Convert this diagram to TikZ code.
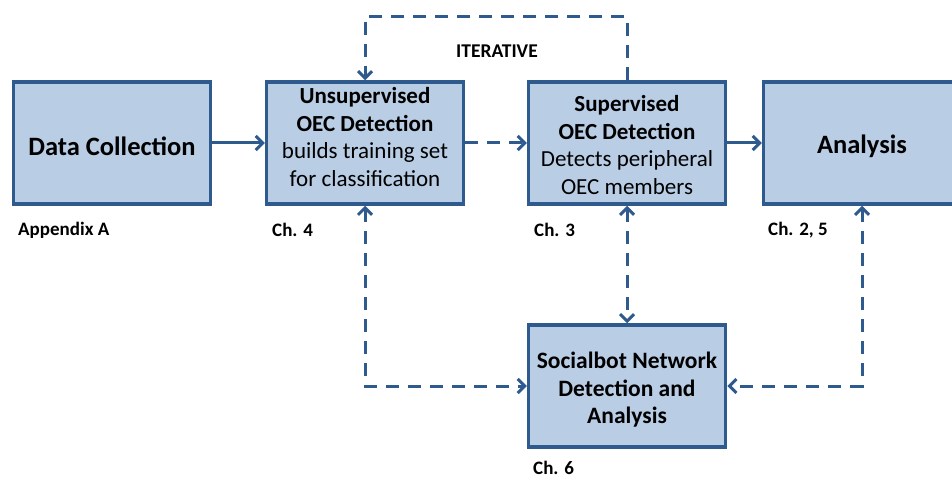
\documentclass[tikz,border=0pt]{standalone}
\usepackage{fontspec}
\setmainfont{Carlito}
\usetikzlibrary{arrows.meta}
\definecolor{boxfill}{HTML}{B9CDE5}
\definecolor{boxline}{HTML}{2F5A8E}
\begin{document}
\begin{tikzpicture}[x=1pt,y=-1pt,
  stagebox/.style={draw=boxline, fill=boxfill, line width=3.5pt, minimum width=197pt, minimum height=122pt, inner sep=0pt},
  boxtext/.style={align=center, text=black, inner sep=0pt},
  flow/.style={draw=boxline, line width=3pt, -{Straight Barb[length=7pt,width=14pt,line width=3pt]}},
  dashflow/.style={flow, dash pattern=on 13pt off 9pt},
  both/.style={dashflow, {Straight Barb[length=7pt,width=14pt,line width=3pt]}-{Straight Barb[length=7pt,width=14pt,line width=3pt]}},
  lbl/.style={font=\fontsize{19}{22}\selectfont\bfseries, anchor=west, text=black, inner sep=0pt}
]
\useasboundingbox (0,0) rectangle (952,481);
\clip (0,0) rectangle (952,481);
\node[stagebox] (dc) at (112,143) {};
\node[stagebox] (uns) at (365,143) {};
\node[stagebox] (sup) at (627,143) {};
\node[stagebox] (ana) at (862,143) {};
\node[stagebox] (sbn) at (627,386) {};

\node[boxtext, font=\fontsize{26.5}{30}\selectfont\bfseries] (dct) at (112,146) {Data Collection};
\node[boxtext, font=\fontsize{26.5}{30}\selectfont\bfseries] (anat) at (862,146) {Analysis};
\node[boxtext, font=\fontsize{23}{27.7}\selectfont] (unst) at (365,137) {\textbf{Unsupervised}\\\textbf{OEC Detection}\\builds training set\\for classification};
\node[boxtext, font=\fontsize{23}{27.7}\selectfont] (supt) at (627,145) {\textbf{Supervised}\\\textbf{OEC Detection}\\Detects peripheral\\OEC members};
\node[boxtext, font=\fontsize{23.5}{27.5}\selectfont\bfseries] (sbnt) at (627,390) {Socialbot Network\\Detection and\\Analysis};

\node[lbl] (la) at (18,230) {Appendix A};
\node[lbl] (l4) at (272,230) {Ch. 4};
\node[lbl] (l3) at (534,230) {Ch. 3};
\node[lbl] (l25) at (768,230) {Ch. 2, 5};
\node[lbl] (l6) at (533,468) {Ch. 6};
\node[font=\fontsize{19.5}{22}\selectfont\bfseries, inner sep=0pt] (it) at (497,51) {ITERATIVE};

\coordinate (top) at (0,17);

\draw[flow] (dc.east) -- (uns.west);
\draw[dashflow] (uns.east) -- (sup.west);
\draw[flow] (sup.east) -- (ana.west);
\draw[dashflow] (sup.north) -- (sup.north |- top) -| (uns.north);
\draw[both] (sup.south) -- (sbn.north);
\draw[both] (uns.south) |- (sbn.west);
\draw[both] (ana.south) |- (sbn.east);
\end{tikzpicture}
\end{document}
